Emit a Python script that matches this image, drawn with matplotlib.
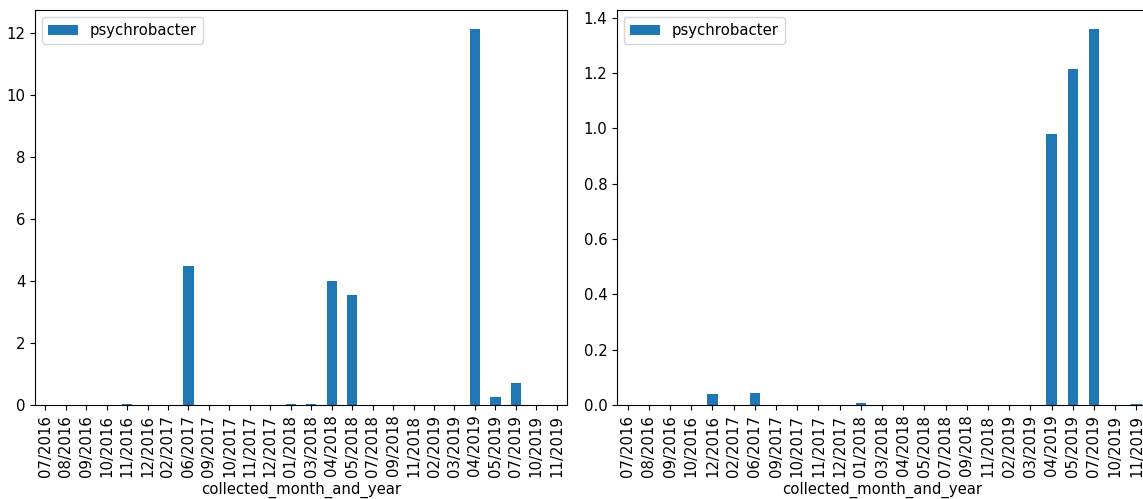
import numpy as np
import pandas as pd
import matplotlib
matplotlib.use("Agg")
import matplotlib.pyplot as plt

plt.rcParams["font.size"] = 10.7

# left panel
left_months = ["07/2016", "08/2016", "09/2016", "10/2016", "11/2016", "12/2016",
               "02/2017", "06/2017", "09/2017", "10/2017", "11/2017", "12/2017",
               "01/2018", "03/2018", "04/2018", "05/2018", "07/2018", "09/2018",
               "11/2018", "02/2019", "03/2019", "04/2019", "05/2019", "07/2019",
               "10/2019", "11/2019"]
left_values = [0, 0, 0, 0, 0.03, 0,
               0, 4.5, 0, 0, 0, 0,
               0.03, 0.03, 4.0, 3.55, 0, 0,
               0, 0, 0, 12.15, 0.27, 0.72,
               0, 0]

# right panel
right_months = ["07/2016", "08/2016", "09/2016", "10/2016", "12/2016", "02/2017",
                "06/2017", "09/2017", "10/2017", "11/2017", "12/2017", "01/2018",
                "03/2018", "04/2018", "05/2018", "07/2018", "09/2018", "11/2018",
                "02/2019", "03/2019", "04/2019", "05/2019", "07/2019", "10/2019",
                "11/2019"]
right_values = [0, 0, 0, 0, 0.04, 0,
                0.045, 0, 0, 0, 0, 0.008,
                0, 0, 0, 0, 0, 0,
                0, 0, 0.98, 1.215, 1.36, 0,
                0.005]

df_left = pd.DataFrame({"psychrobacter": left_values},
                       index=pd.Index(left_months, name="collected_month_and_year"))
df_right = pd.DataFrame({"psychrobacter": right_values},
                        index=pd.Index(right_months, name="collected_month_and_year"))

W, H = 1143, 499
fig = plt.figure(figsize=(W / 100, H / 100), dpi=100)
ax1 = fig.add_axes([35 / W, 1 - 405 / H, 532 / W, 395 / H])
ax2 = fig.add_axes([617 / W, 1 - 405 / H, 530 / W, 395 / H])

df_left.plot(kind="bar", ax=ax1, color="#1f77b4")
df_right.plot(kind="bar", ax=ax2, color="#1f77b4")

for ax in (ax1, ax2):
    ax.legend(loc="upper left")
    ax.set_xlabel("collected_month_and_year")

fig.savefig("out.png", dpi=100)
